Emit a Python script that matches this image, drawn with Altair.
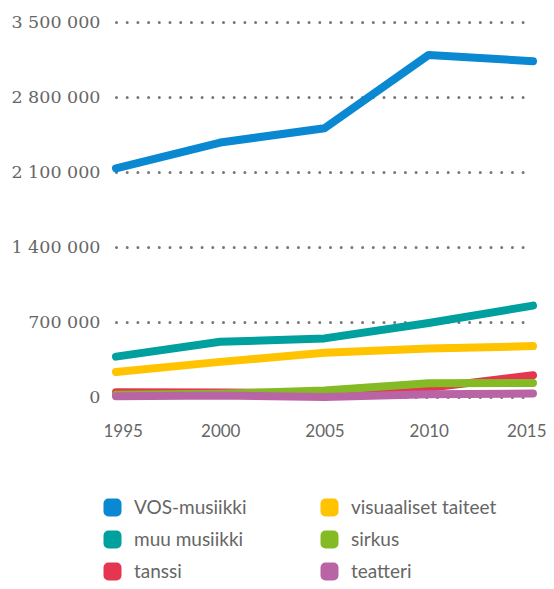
import altair as alt
import pandas as pd

years = [1995, 2000, 2005, 2010, 2015]
vos_musiikki = [2134000, 2375000, 2509000, 3193000, 3134000]
muu_musiikki = [377000, 515000, 547000, 690000, 853000]
visuaaliset = [234000, 328000, 412000, 453000, 475000]
tanssi = [45000, 42000, 38000, 85000, 203000]
sirkus = [20000, 30000, 60000, 128000, 131000]
teatteri = [7000, 15000, 0, 25000, 32000]

series_names = ["VOS-musiikki", "muu musiikki", "visuaaliset taiteet", "tanssi", "sirkus", "teatteri"]
series_values = [vos_musiikki, muu_musiikki, visuaaliset, tanssi, sirkus, teatteri]
# legend fills column by column
legend_order = ["VOS-musiikki", "muu musiikki", "tanssi", "visuaaliset taiteet", "sirkus", "teatteri"]
legend_colors = ["#0a88d2", "#00a09f", "#e6354f", "#ffc300", "#84bb25", "#b965a5"]
y_ticks = [0, 700000, 1400000, 2100000, 2800000, 3500000]

rows = []
for i, (name, vals) in enumerate(zip(series_names, series_values)):
    for y, v in zip(years, vals):
        rows.append({"vuosi": y, "arvo": v, "sarja": name, "jarj": i})
df = pd.DataFrame(rows)

rounded = "M-1,-0.9 Q-1,-1 -0.9,-1 L0.9,-1 Q1,-1 1,-0.9 L1,0.9 Q1,1 0.9,1 L-0.9,1 Q-1,1 -1,0.9 Z"

chart = alt.Chart(df).mark_line(
    strokeWidth=8, strokeCap="round", strokeJoin="round"
).encode(
    x=alt.X("vuosi:Q", scale=alt.Scale(domain=[1995, 2015], nice=False, zero=False),
            axis=alt.Axis(values=years, format="d", title=None, grid=False, domain=False,
                          ticks=False, labelFont="Lato", labelFontSize=17, labelColor="#666",
                          labelPadding=26, labelFlush=True, labelFlushOffset=13)),
    y=alt.Y("arvo:Q", scale=alt.Scale(domain=[0, 3500000], nice=False),
            axis=alt.Axis(values=y_ticks, title=None, domain=False, ticks=False,
                          labelExpr="replace(format(datum.value, ','), /,/g, ' ')",
                          labelFont="DejaVu Serif", labelFontSize=17.5, labelColor="#666",
                          labelPadding=16, grid=True, gridColor="#777", gridWidth=3,
                          gridCap="round", gridDash=[0, 10.7])),
    color=alt.Color("sarja:N", scale=alt.Scale(domain=legend_order, range=legend_colors),
                    legend=alt.Legend(title=None, orient="none", legendX=-13, legendY=476,
                                      columns=2, columnPadding=60, rowPadding=-14,
                                      symbolType=rounded, symbolSize=81, symbolStrokeWidth=9,
                                      symbolOpacity=1,
                                      labelFont="Lato", labelFontSize=19,
                                      labelColor="#666", labelOffset=12, padding=0)),
    order=alt.Order("jarj:Q"),
).properties(
    width=417, height=375,
    autosize=alt.AutoSizeParams(type="none"),
    padding={"left": 108, "top": 14, "right": 13, "bottom": 184},
).configure_view(stroke=None)

chart.save("out.html", embed_options={"renderer": "svg", "actions": False})
